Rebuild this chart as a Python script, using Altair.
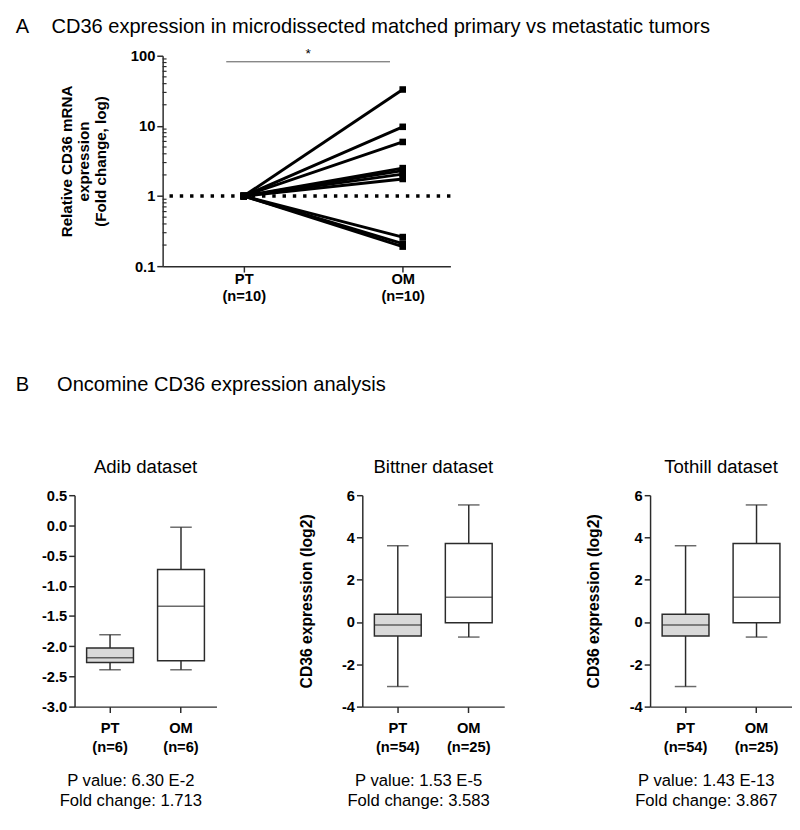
import altair as alt
import pandas as pd

FONT = "Liberation Sans"
AX = "#2b2b2b"

# ---------------- Panel A data ----------------
pair_ids = [1, 2, 3, 4, 5, 6, 7, 8, 9, 10]
pt_fold = [1.0, 1.0, 1.0, 1.0, 1.0, 1.0, 1.0, 1.0, 1.0, 1.0]
om_fold = [33.0, 9.7, 5.9, 2.5, 2.3, 2.05, 1.75, 0.26, 0.21, 0.19]
a_labels = [["PT", "(n=10)"], ["OM", "(n=10)"]]
a_ticks = [0.1, 1, 10, 100]
a_minor_ticks = [0.2, 0.3, 0.4, 0.5, 0.6, 0.7, 0.8, 0.9,
                 2, 3, 4, 5, 6, 7, 8, 9,
                 20, 30, 40, 50, 60, 70, 80, 90]
a_ref = [1.0]
sig_x = [-0.11]
sig_x2 = [0.92]
sig_y = [82.0]
sig_text = ["*"]
title_a = "A\u00a0\u00a0\u00a0\u00a0CD36 expression in microdissected matched primary vs metastatic tumors"
ytitle_a = ["Relative CD36 mRNA", "expression", "(Fold change, log)"]

# ---------------- Panel B data ----------------
title_b = "B\u00a0\u00a0\u00a0\u00a0\u00a0Oncomine CD36 expression analysis"
b_titles = ["Adib dataset", "Bittner dataset", "Tothill dataset"]
b_groups = ["PT", "OM"]
b_n = [["(n=6)", "(n=6)"], ["(n=54)", "(n=25)"], ["(n=54)", "(n=25)"]]
b_min = [[-2.39, -2.39], [-3.05, -0.71], [-3.05, -0.71]]
b_q1 = [[-2.27, -2.24], [-0.66, -0.03], [-0.66, -0.03]]
b_med = [[-2.19, -1.34], [-0.14, 1.17], [-0.14, 1.17]]
b_q3 = [[-2.03, -0.73], [0.37, 3.72], [0.37, 3.72]]
b_max = [[-1.81, -0.03], [3.61, 5.54], [3.61, 5.54]]
b_pvalue = ["P value: 6.30 E-2", "P value: 1.53 E-5", "P value: 1.43 E-13"]
b_fold = ["Fold change: 1.713", "Fold change: 3.583", "Fold change: 3.867"]
b_ydomain = [[-3.0, 0.5], [-4, 6], [-4, 6]]
b_yticks = [[-3.0, -2.5, -2.0, -1.5, -1.0, -0.5, 0.0, 0.5],
            [-4, -2, 0, 2, 4, 6], [-4, -2, 0, 2, 4, 6]]
b_yfmt = [".1f", "d", "d"]
b_ytitle = [None, "CD36 expression (log2)", "CD36 expression (log2)"]
b_fill = ["#d9d9d9", "#ffffff"]

# ---------------- Panel A chart ----------------
dfA = pd.DataFrame({
    "pair": pair_ids + pair_ids,
    "pos": [0] * len(pair_ids) + [1] * len(pair_ids),
    "fold": pt_fold + om_fold,
})

a_label_expr = ("datum.value == 0 ? ['%s','%s'] : ['%s','%s']"
                % (a_labels[0][0], a_labels[0][1], a_labels[1][0], a_labels[1][1]))

xA_axis = alt.Axis(values=[0, 1], labelExpr=a_label_expr, title=None,
                   labelLineHeight=17, labelPadding=0)
xA_scale = alt.Scale(domain=[-0.51, 1.30], nice=False, zero=False)
yA_axis = alt.Axis(values=a_ticks, format="~g", title=ytitle_a,
                   titleLineHeight=17.5, titlePadding=22, titleFontSize=15.5)
yA_scale = alt.Scale(type="log", domain=[0.1, 100], nice=False)

xA = alt.X("pos:Q", scale=xA_scale, axis=xA_axis)
yA = alt.Y("fold:Q", scale=yA_scale, axis=yA_axis)

ref = alt.Chart(pd.DataFrame({"fold": a_ref})).mark_rule(
    color="black", strokeWidth=3.5, strokeDash=[3.5, 7]
).encode(y=yA)

minor = alt.Chart(pd.DataFrame({"fold": a_minor_ticks})).mark_rule(
    color=AX, strokeWidth=1.2
).encode(y=yA, x=alt.value(0), x2=alt.value(4))

lines = alt.Chart(dfA).mark_line(color="black", strokeWidth=3).encode(
    x=xA, y=yA, detail="pair:N")
squares = alt.Chart(dfA).mark_square(size=45, color="black", opacity=1).encode(
    x=xA, y=yA)

sig_df = pd.DataFrame({"pos": sig_x, "pos2": sig_x2, "fold": sig_y, "t": sig_text,
                       "mid": [(a + b) / 2 for a, b in zip(sig_x, sig_x2)]})
sig_bar = alt.Chart(sig_df).mark_rule(color="#555555", strokeWidth=1).encode(
    x=xA, x2="pos2:Q", y=yA)
sig_star = alt.Chart(sig_df).mark_text(
    font=FONT, fontSize=14, baseline="bottom", dy=-1, color="black"
).encode(x=alt.X("mid:Q", scale=xA_scale, axis=xA_axis), y=yA, text="t:N")

panelA = alt.layer(ref, minor, lines, squares, sig_bar, sig_star).properties(
    width=294, height=215)


# ---------------- Panel B charts ----------------
def box_panel(i):
    df = pd.DataFrame({
        "group": b_groups,
        "lo": b_min[i], "q1": b_q1[i], "med": b_med[i],
        "q3": b_q3[i], "hi": b_max[i], "fill": b_fill,
    })
    lab = ("datum.value == 'PT' ? ['PT','%s'] : ['OM','%s']" % (b_n[i][0], b_n[i][1]))
    x = alt.X("group:N", sort=b_groups,
              scale=alt.Scale(domain=b_groups, paddingInner=0.34, paddingOuter=0.17),
              axis=alt.Axis(labelExpr=lab, labelAngle=0, labelLineHeight=20,
                            labelPadding=8,
                            title=[b_pvalue[i], b_fold[i]], titleFontWeight="normal",
                            titleFontSize=17, titleLineHeight=20, titlePadding=19,
                            titleX=57, titleAlign="center"))
    yscale = alt.Scale(domain=b_ydomain[i], nice=False, zero=False)
    ykw = dict(values=b_yticks[i],
               labelExpr="replace(format(datum.value, '%s'), '\u2212', '-')" % b_yfmt[i],
               titlePadding=28, titleFontSize=16)
    if b_ytitle[i] is None:
        yaxis = alt.Axis(title=None, **ykw)
    else:
        yaxis = alt.Axis(title=b_ytitle[i], **ykw)

    def Y(f):
        return alt.Y(f + ":Q", scale=yscale, axis=yaxis)

    base = alt.Chart(df)
    whisk = base.mark_rule(color=AX, strokeWidth=1.5).encode(x=x, y=Y("lo"), y2="hi:Q")
    cap_lo = base.mark_tick(color=AX, size=22, thickness=1.5).encode(x=x, y=Y("lo"))
    cap_hi = base.mark_tick(color=AX, size=22, thickness=1.5).encode(x=x, y=Y("hi"))
    box = base.mark_bar(stroke=AX, strokeWidth=1.5).encode(
        x=x, y=Y("q1"), y2="q3:Q", fill=alt.Fill("fill:N", scale=None))
    med = base.mark_tick(color=AX, size=48, thickness=1.5).encode(x=x, y=Y("med"))
    return alt.layer(whisk, cap_lo, cap_hi, box, med).properties(
        width=145, height=216,
        title=alt.Title(b_titles[i], fontSize=19, fontWeight="normal", font=FONT,
                        offset=12, anchor="middle"))


def spacer(w):
    return alt.Chart(pd.DataFrame({"s": [0]})).mark_point(opacity=0).properties(
        width=w, height=10)


inner = alt.hconcat(box_panel(0), box_panel(1), box_panel(2), spacing=83)
rowB = alt.hconcat(spacer(34), inner, spacing=0,
                   title=alt.Title(title_b, anchor="start", fontSize=20.5,
                                   fontWeight="normal", font=FONT, offset=64, dx=8))
rowA = alt.hconcat(spacer(52), panelA, spacing=0)

chart = alt.vconcat(rowA, rowB, spacing=73).properties(
    title=alt.Title(title_a, anchor="start", fontSize=20.5, fontWeight="normal",
                    font=FONT, offset=10, dx=8),
    padding={"left": 0, "top": 0, "right": 0, "bottom": 0},
).configure_view(stroke=None).configure_axis(
    grid=False, domainColor=AX, domainWidth=1.5, tickColor=AX, tickWidth=1.5,
    tickSize=6, labelFont=FONT, labelFontWeight="bold", labelFontSize=15,
    labelColor="black", titleFont=FONT, titleFontWeight="bold", titleFontSize=14,
    titleColor="black",
).configure_title(color="black")

chart.save("out.html", embed_options={"renderer": "svg", "actions": False})
